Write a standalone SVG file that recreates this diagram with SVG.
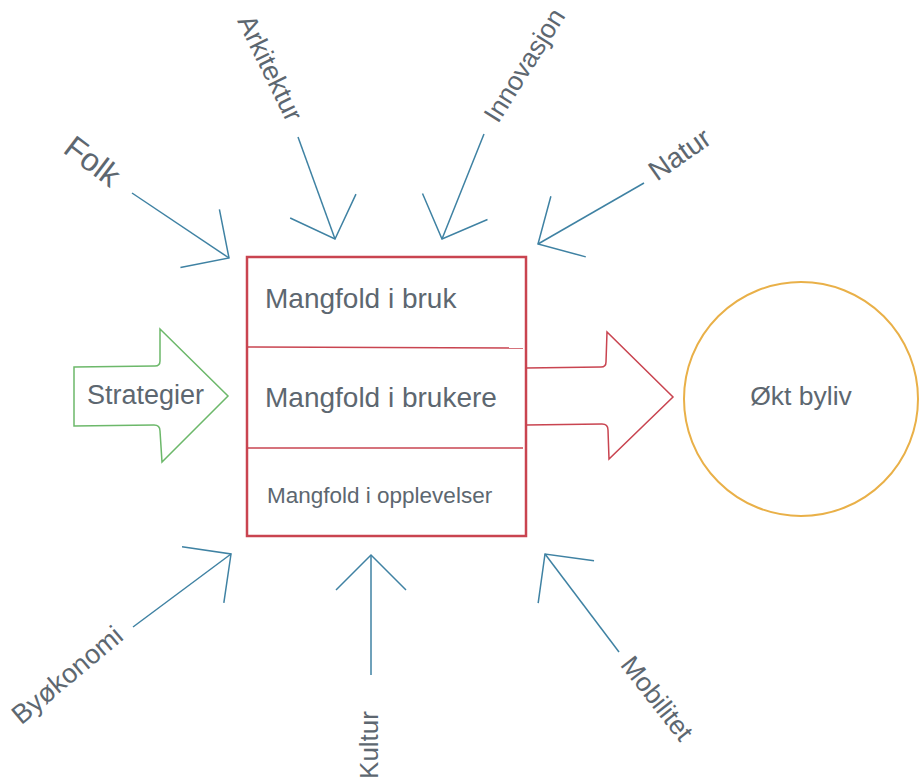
<svg xmlns="http://www.w3.org/2000/svg" width="923" height="778" viewBox="0 0 923 778">
<style>
.lbl{font-family:"Liberation Sans",Arial,sans-serif;fill:#5d6770}
.conn{fill:none;stroke:#3f82a3;stroke-width:1.5;marker-end:url(#v)}
</style>
<defs>
<marker id="v" markerUnits="userSpaceOnUse" viewBox="0 0 80 80" markerWidth="80" markerHeight="80" refX="40" refY="40" orient="auto" overflow="visible">
<path d="M5,5 L40,40 L5,75" fill="none" stroke="#3f82a3" stroke-width="1.5"/>
</marker>
</defs>
<rect width="923" height="778" fill="#ffffff"/>
<g id="connectors">
<line class="conn" x1="132" y1="193" x2="229" y2="258"/>
<line class="conn" x1="298" y1="137" x2="335" y2="239"/>
<line class="conn" x1="484" y1="134" x2="442" y2="239"/>
<line class="conn" x1="644" y1="183" x2="538" y2="244"/>
<line class="conn" x1="133" y1="627" x2="231" y2="554"/>
<line class="conn" x1="371" y1="675" x2="371" y2="555"/>
<line class="conn" x1="619" y1="652" x2="545" y2="554"/>
</g>
<g id="folk"><text class="lbl" font-size="32" text-anchor="middle" transform="translate(86,170) rotate(37)">Folk</text></g>
<g id="arkitektur"><text class="lbl" font-size="27" text-anchor="middle" transform="translate(262,72) rotate(64)">Arkitektur</text></g>
<g id="innovasjon"><text class="lbl" font-size="26.5" text-anchor="middle" transform="translate(532,70) rotate(-58)">Innovasjon</text></g>
<g id="natur"><text class="lbl" font-size="28" text-anchor="middle" transform="translate(685,162) rotate(-35)">Natur</text></g>
<g id="byokonomi"><text class="lbl" font-size="27" text-anchor="middle" transform="translate(73,682) rotate(-40)">Byøkonomi</text></g>
<g id="kultur"><text class="lbl" font-size="26" text-anchor="middle" transform="translate(378,745) rotate(-90)">Kultur</text></g>
<g id="mobilitet"><text class="lbl" font-size="26.5" text-anchor="middle" transform="translate(650,704) rotate(52)">Mobilitet</text></g>
<g id="strategier">
<path d="M74,367 L155,366 Q160,366 160,361 L160,329 L228,396 L162,462 L160,431 Q160,425 154,425 L74,426 Z" fill="none" stroke="#6cb86a" stroke-width="1.5"/>
<text class="lbl" font-size="27" x="87" y="404">Strategier</text>
</g>
<g id="mangfold">
<rect x="247" y="257" width="279" height="279" fill="none" stroke="#c94450" stroke-width="2.5"/>
<line x1="247" y1="347" x2="523" y2="348" stroke="#c94450" stroke-width="1.5"/>
<line x1="247" y1="448" x2="523" y2="448" stroke="#c94450" stroke-width="1.5"/>
<text class="lbl" font-size="28" x="265" y="308">Mangfold i bruk</text>
<text class="lbl" font-size="28" x="265" y="407">Mangfold i brukere</text>
<text class="lbl" font-size="22.5" x="267" y="503">Mangfold i opplevelser</text>
</g>
<g id="output-arrow">
<path d="M526,368 L601,367 Q606,367 606,362 L607,332 L673,397 L609,459 L608,430 Q608,424 602,424 L526,425" fill="none" stroke="#c94450" stroke-width="1.5"/>
</g>
<g id="okt-byliv">
<circle cx="801" cy="399" r="117" fill="none" stroke="#e9b048" stroke-width="2"/>
<text class="lbl" font-size="26.5" text-anchor="middle" x="801" y="405">Økt byliv</text>
</g>
</svg>
